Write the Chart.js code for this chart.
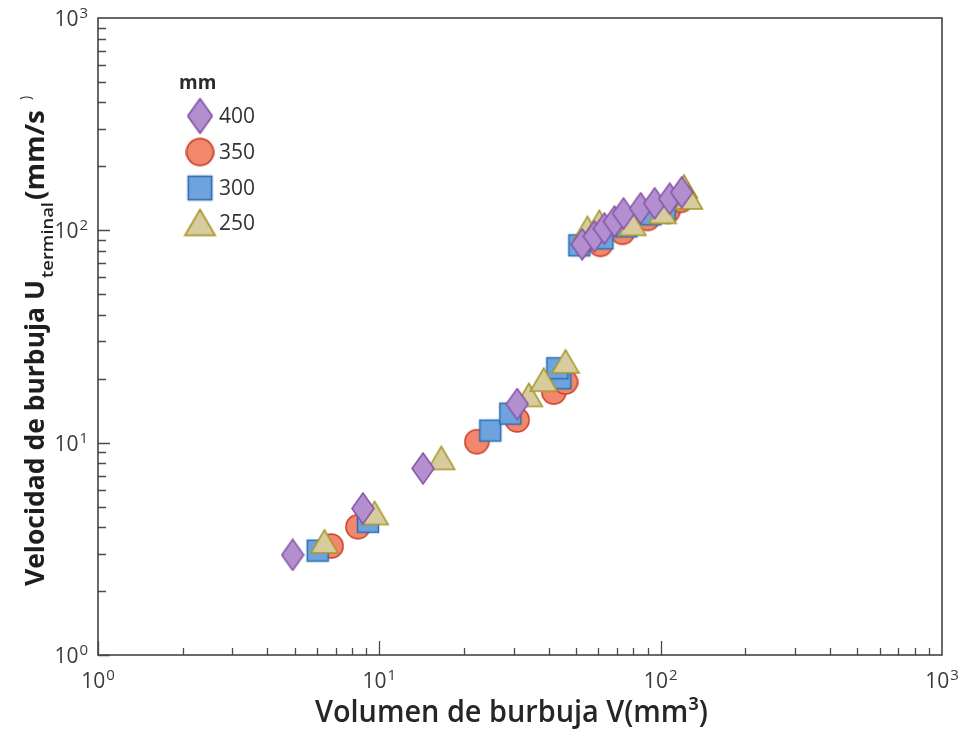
<!DOCTYPE html>
<html>
<head>
<meta charset="utf-8">
<script src="https://cdn.jsdelivr.net/npm/chart.js@4/dist/chart.umd.min.js"></script>
<style>
html, body { margin: 0; padding: 0; background: #fff; }
</style>
</head>
<body>
<canvas id="chart" width="967" height="731"></canvas>
<script>
// Series (volume mm3, velocity mm/s)
const seriesLabels = ['400', '350', '300', '250'];

const vol400 = [4.92, 8.74, 14.3, 30.9, 52.6, 58.1, 63.1, 68.5, 73.8, 84.9, 95.2, 107.7, 118.8];
const vel400 = [2.96, 4.90, 7.56, 15.2, 85.9, 93.7, 102, 110, 120, 127, 134, 141, 151];

const vol350 = [6.74, 8.39, 22.2, 30.9, 41.7, 45.9, 61.1, 73.2, 89.9, 105.9, 117.9];
const vel350 = [3.26, 4.02, 10.1, 12.8, 17.3, 19.3, 85.9, 97.9, 113.8, 122.8, 138.4];

const vol300 = [6.04, 9.11, 24.8, 29.2, 44.0, 42.9, 51.4, 62.1, 75.6, 92.1, 103.3];
const vel300 = [3.10, 4.24, 11.4, 13.7, 20.1, 22.4, 85.0, 91.7, 104.4, 118.9, 126.9];

const vol250 = [6.38, 9.62, 16.6, 34.0, 38.4, 45.9, 54.9, 60.5, 79.4, 101.6, 121.0, 126.0];
const vel250 = [3.41, 4.64, 8.43, 16.7, 19.7, 24.0, 102.2, 109.1, 106.7, 121.5, 160.0, 142.0];

const decadeTicks = [1, 10, 100, 1000];
const decadeExp = ['0', '1', '2', '3'];

// marker images
function makeMarker(type, fill, stroke) {
    const c = document.createElement('canvas');
    const w = type === 'triangle' ? 30 : (type === 'diamond' ? 24 : 26);
    const h = type === 'diamond' ? 33 : 28;
    c.width = w; c.height = h;
    const g = c.getContext('2d');
    g.fillStyle = fill;
    g.strokeStyle = stroke;
    g.lineWidth = 1.5;
    g.beginPath();
    if (type === 'diamond') {
        g.moveTo(w / 2, 1); g.lineTo(w - 1, h / 2); g.lineTo(w / 2, h - 1); g.lineTo(1, h / 2);
    } else if (type === 'circle') {
        g.arc(w / 2, h / 2, 12, 0, Math.PI * 2);
    } else if (type === 'square') {
        g.rect(w / 2 - 10.5, h / 2 - 10.5, 21, 21);
    } else {
        g.moveTo(w / 2, 2); g.lineTo(w - 1.5, h - 3); g.lineTo(1.5, h - 3);
    }
    g.closePath();
    g.fill();
    g.stroke();
    return c;
}

const mk400 = makeMarker('diamond', '#b38fd0', '#8654a6');
const mk350 = makeMarker('circle', '#f3876b', '#c73c28');
const mk300 = makeMarker('square', '#6ea3dd', '#2b6cb3');
const mk250 = makeMarker('triangle', '#d8cb9d', '#a4982a');
const markers = [mk400, mk350, mk300, mk250];

function pts(xs, ys) {
    return xs.map((x, i) => ({ x: x, y: ys[i] }));
}

// draw text squeezed/stretched to a given length
function fitText(ctx, txt, x, y, len) {
    const w = ctx.measureText(txt).width;
    ctx.save();
    ctx.translate(x, y);
    ctx.scale(len / w, 1);
    ctx.fillText(txt, 0, 0);
    ctx.restore();
}

const tickFont = '"Open Sans", sans-serif';

// inside ticks, frame, tick labels, titles, legend
const decorations = {
    id: 'decorations',
    beforeDatasetsDraw(chart) {
        const ctx = chart.ctx;
        const a = chart.chartArea;
        const xs = chart.scales.x, ys = chart.scales.y;
        ctx.save();
        ctx.strokeStyle = '#4a4a4a';
        ctx.lineWidth = 1.3;
        for (let d = 1; d < 1000; d *= 10) {
            for (let m = 1; m < 10; m++) {
                const v = d * m;
                const px = Math.round(xs.getPixelForValue(v)) + 0.5;
                const py = Math.round(ys.getPixelForValue(v)) + 0.5;
                const lx = m === 1 ? 14 : 7;
                const ly = m === 1 ? 12 : 8;
                ctx.beginPath();
                ctx.moveTo(px, a.bottom); ctx.lineTo(px, a.bottom - lx);
                ctx.moveTo(a.left, py); ctx.lineTo(a.left + ly, py);
                ctx.stroke();
            }
        }
        ctx.lineWidth = 1.6;
        ctx.strokeStyle = '#444';
        ctx.strokeRect(a.left, a.top, a.right - a.left, a.bottom - a.top);

        // decade labels 10^n
        ctx.fillStyle = '#3a3a3a';
        ctx.textBaseline = 'alphabetic';
        decadeTicks.forEach((v, i) => {
            ctx.font = '21px ' + tickFont;
            const w1 = ctx.measureText('10').width;
            ctx.font = '15px ' + tickFont;
            const w2 = ctx.measureText(decadeExp[i]).width;
            const w = w1 + w2 + 1;
            // x axis
            let px = xs.getPixelForValue(v) - w / 2;
            ctx.font = '21px ' + tickFont;
            ctx.fillText('10', px, 688);
            ctx.font = '15px ' + tickFont;
            ctx.fillText(decadeExp[i], px + w1 + 1, 680);
            // y axis
            const py = ys.getPixelForValue(v) + 8;
            px = 88 - w;
            ctx.font = '21px ' + tickFont;
            ctx.fillText('10', px, py);
            ctx.font = '15px ' + tickFont;
            ctx.fillText(decadeExp[i], px + w1 + 1, py - 8);
        });
        ctx.restore();
    },
    afterDraw(chart) {
        const ctx = chart.ctx;
        ctx.save();
        ctx.textBaseline = 'alphabetic';
        // x title
        ctx.fillStyle = '#262626';
        ctx.font = '600 30px "Open Sans", sans-serif';
        fitText(ctx, 'Volumen de burbuja V(mm³)', 315, 722, 393);

        // y title, rotated
        ctx.save();
        ctx.translate(44, 586);
        ctx.rotate(-Math.PI / 2);
        ctx.fillStyle = '#1e1e1e';
        ctx.font = 'bold 27px "Open Sans", sans-serif';
        fitText(ctx, 'Velocidad de burbuja U', 0, 0, 306);
        ctx.font = '600 17px "Open Sans", sans-serif';
        fitText(ctx, 'terminal', 308, 9, 76);
        ctx.font = 'bold 27px "Open Sans", sans-serif';
        fitText(ctx, '(mm/s', 386, 0, 90);
        ctx.font = '14px "Open Sans", sans-serif';
        ctx.fillText(')', 486, -14);
        ctx.restore();

        // legend
        ctx.fillStyle = '#2a2a2a';
        ctx.font = 'bold 19px "Open Sans", sans-serif';
        ctx.textBaseline = 'middle';
        ctx.fillText('mm', 179, 84);
        ctx.font = '21px "Open Sans", sans-serif';
        ctx.fillStyle = '#333';
        const rows = [116, 152, 188, 223];
        seriesLabels.forEach((lab, i) => {
            const m = markers[i];
            const s = 1.12;
            ctx.drawImage(m, 200 - m.width * s / 2, rows[i] - m.height * s / 2, m.width * s, m.height * s);
            ctx.fillText(lab, 219, rows[i] + 1);
        });
        ctx.restore();
    }
};

const baseSet = { showLine: false, pointRadius: 12, pointHoverRadius: 12 };

new Chart(document.getElementById('chart'), {
    type: 'scatter',
    data: {
        datasets: [
            Object.assign({ label: seriesLabels[0], data: pts(vol400, vel400), pointStyle: mk400, order: 0 }, baseSet),
            Object.assign({ label: seriesLabels[1], data: pts(vol350, vel350), pointStyle: mk350, order: 3 }, baseSet),
            Object.assign({ label: seriesLabels[2], data: pts(vol300, vel300), pointStyle: mk300, order: 2 }, baseSet),
            Object.assign({ label: seriesLabels[3], data: pts(vol250, vel250), pointStyle: mk250, order: 1 }, baseSet)
        ]
    },
    options: {
        responsive: false,
        animation: false,
        layout: { padding: { top: 18, right: 25, left: 0, bottom: 0 } },
        plugins: { legend: { display: false }, tooltip: { enabled: false } },
        scales: {
            x: {
                type: 'logarithmic',
                min: 1, max: 1000,
                grid: { display: false },
                border: { display: false },
                ticks: { display: false },
                afterFit: s => { s.height = 76; }
            },
            y: {
                type: 'logarithmic',
                min: 1, max: 1000,
                grid: { display: false },
                border: { display: false },
                ticks: { display: false },
                afterFit: s => { s.width = 98; }
            }
        }
    },
    plugins: [decorations]
});
</script>
</body>
</html>
